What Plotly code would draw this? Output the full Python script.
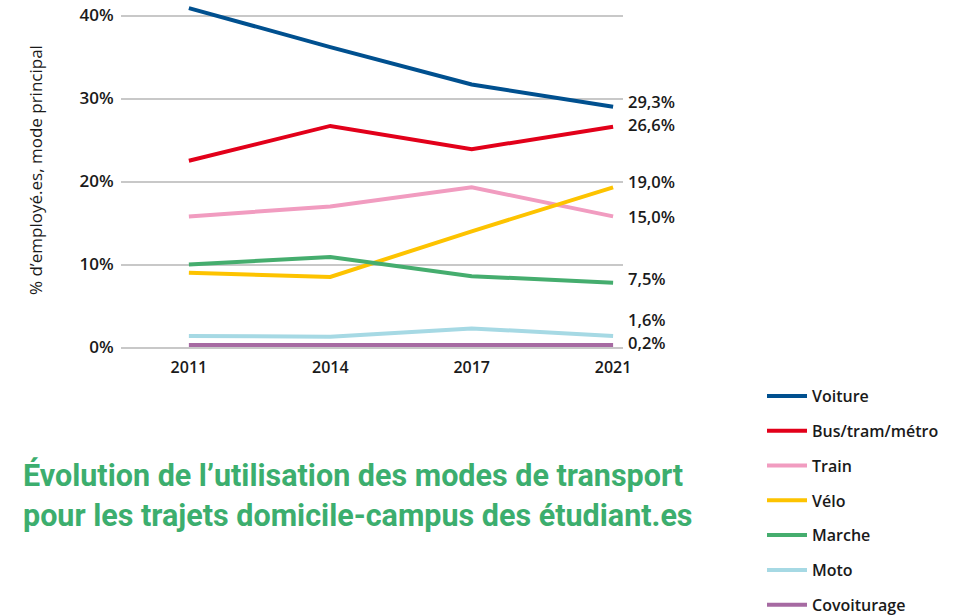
import plotly.graph_objects as go

years = ["2011", "2014", "2017", "2021"]
series_names = ["Voiture", "Bus/tram/métro", "Train", "Vélo", "Marche", "Moto", "Covoiturage"]
voiture = [40.9, 36.2, 31.7, 29.0]
bus = [22.5, 26.7, 23.9, 26.6]
train = [15.8, 17.0, 19.3, 15.8]
velo = [9.0, 8.5, 14.0, 19.3]
marche = [10.0, 10.9, 8.6, 7.8]
moto = [1.4, 1.3, 2.3, 1.4]
covoit = [0.3, 0.3, 0.3, 0.3]
end_labels = ["29,3%", "26,6%", "19,0%", "15,0%", "7,5%", "1,6%", "0,2%"]
end_label_pos = [29.6, 26.9, 20.0, 15.8, 8.3, 3.4, 0.6]
y_ticks = [0, 10, 20, 30, 40]
y_tick_text = ["0%", "10%", "20%", "30%", "40%"]

colors = ["#00508f", "#e2001a", "#f19cc0", "#fdc300", "#45ad6e", "#a6d9e4", "#a66aa2"]
values = [voiture, bus, train, velo, marche, moto, covoit]

FONT = "Open Sans"
TXT = "#1a1a1a"
L, R, T, B = 121, 339, 6, 265
PW, PH = 962 - L - R, 615 - T - B

fig = go.Figure()
for name, vals, col in zip(series_names, values, colors):
    fig.add_trace(go.Scatter(x=years, y=vals, mode="lines", name=name,
                             legendgroup=name,
                             line=dict(color=col, width=4)))

for txt, pos in zip(end_labels, end_label_pos):
    fig.add_annotation(x=3, y=pos, xref="x", yref="y", text=txt,
                       showarrow=False, xanchor="left", xshift=13,
                       font=dict(family=FONT, size=16.5, weight=600, color=TXT))

fig.add_annotation(x=(35 - L) / PW, y=(T + PH - 170) / PH, xref="paper", yref="paper",
                   xanchor="center", yanchor="middle",
                   text="% d’employé.es, mode principal",
                   showarrow=False, textangle=-90, font=dict(family=FONT, size=17, color=TXT))

fig.add_annotation(text="<b>Évolution de l’utilisation des modes de transport<br>pour les trajets domicile-campus des étudiant.es</b>",
                   xref="paper", yref="paper", x=(21 - L) / PW, y=-(455 - T - PH) / PH,
                   xanchor="left", yanchor="top", align="left", showarrow=False,
                   font=dict(family="Roboto", size=30.5, color="#3cae6e"))

fig.update_layout(
    width=962, height=615,
    margin=dict(l=L, r=R, t=T, b=B, autoexpand=False),
    plot_bgcolor="white", paper_bgcolor="white",
    font=dict(family=FONT, color=TXT),
    showlegend=True,
    legend=dict(xref="container", yref="container", x=762 / 962, y=1 - 379 / 615,
                xanchor="left", yanchor="top", tracegroupgap=11,
                font=dict(family=FONT, size=16, weight=600, color=TXT),
                itemwidth=40),
    xaxis=dict(type="category", range=[-0.48, 3.07], showgrid=False, zeroline=False,
               showline=False, ticks="outside", ticklen=3, tickcolor="white", automargin=False,
               tickfont=dict(family=FONT, size=16, weight=600, color=TXT)),
    yaxis=dict(range=[-0.3, 41.15], tickvals=y_ticks, ticktext=y_tick_text, automargin=False,
               ticks="outside", ticklen=3, tickcolor="white",
               showgrid=True, gridcolor="#c8c8c8", gridwidth=2, zeroline=False,
               showline=False, tickfont=dict(family=FONT, size=17, weight=600, color=TXT)),
)

fig.write_html("out.html", post_script="document.body.style.margin='0';",
               config={"displayModeBar": False})
